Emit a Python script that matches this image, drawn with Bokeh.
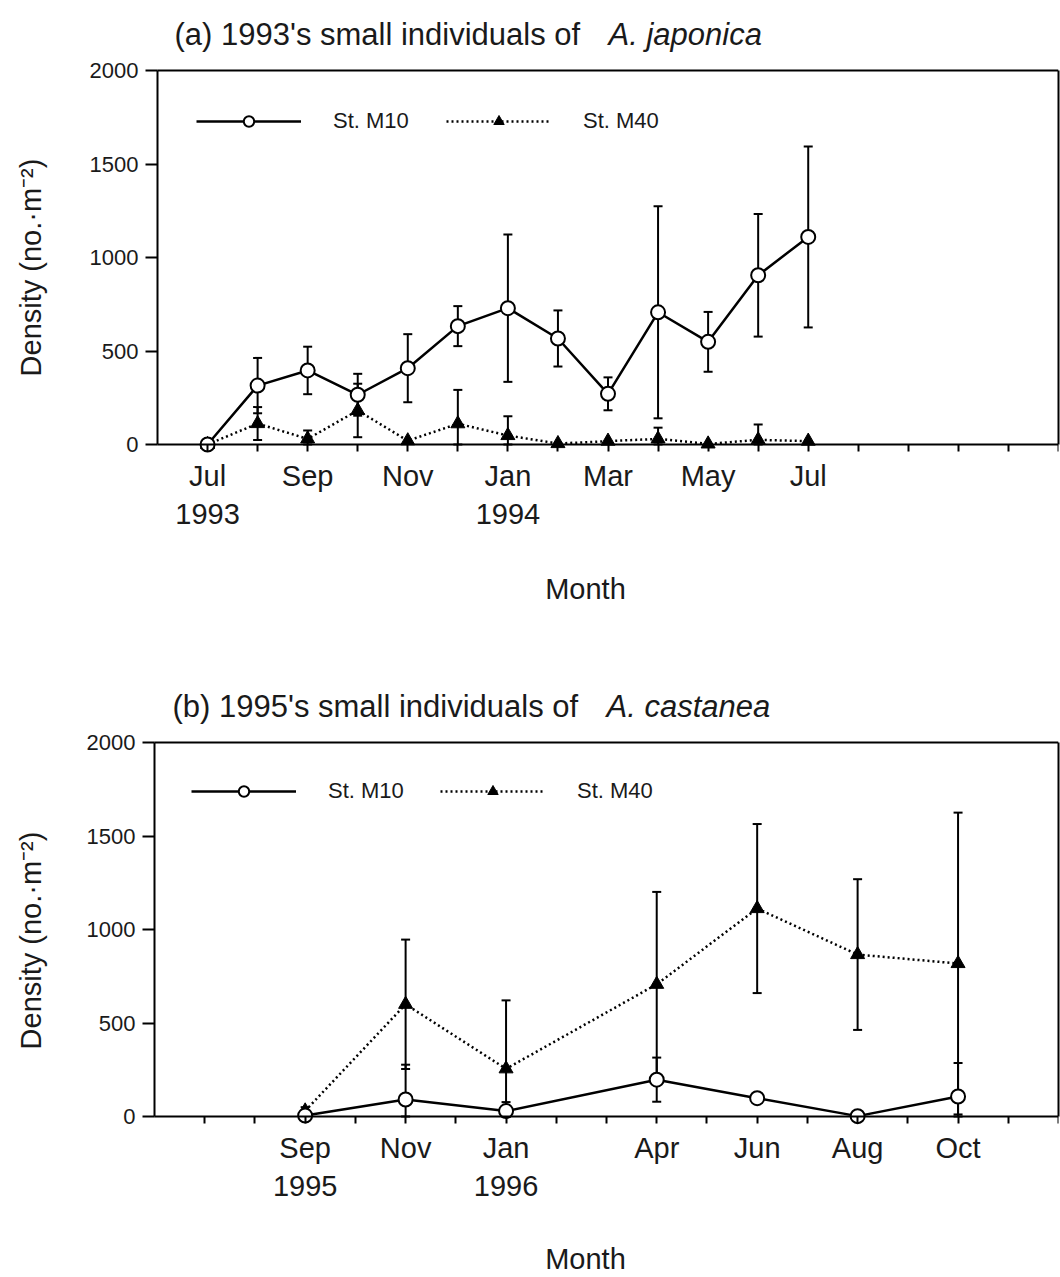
from bokeh.plotting import figure
from bokeh.layouts import column
from bokeh.models import (ColumnDataSource, Range1d, FixedTicker, Whisker, TeeHead,
                          Label, Legend, LegendItem, LinearAxis)
from bokeh.embed import file_html
from bokeh.resources import INLINE
import math

FONT = "Liberation Sans"
INK = "#1a1a1a"

# ---- (a) A. japonica, months counted from Jul 1993 ----
months_a = [0, 1, 2, 3, 4, 5, 6, 7, 8, 9, 10, 11, 12]
m10_a = [0, 315, 396, 266, 408, 633, 729, 567, 271, 707, 549, 905, 1110]
m10_a_err = [0, 148, 127, 112, 182, 107, 394, 150, 88, 567, 160, 328, 484]
m40_a = [0, 112, 30, 182, 20, 111, 48, 5, 18, 30, 3, 25, 18]
m40_a_err = [0, 88, 45, 143, 0, 181, 103, 0, 0, 60, 0, 82, 0]
ticks_a = list(range(0, 18))
tick_labels_a = {0: "Jul\n1993", 2: "Sep", 4: "Nov", 6: "Jan\n1994",
                 8: "Mar", 10: "May", 12: "Jul"}

# ---- (b) A. castanea, months counted from Sep 1995 ----
months_b = [0, 2, 4, 7, 9, 11, 13]
m10_b = [5, 91, 29, 197, 98, 2, 107]
m10_b_err = [0, 186, 48, 118, 0, 0, 179]
m40_b = [30, 600, 255, 707, 1112, 866, 818]
m40_b_err = [20, 346, 366, 494, 452, 403, 807]
ticks_b = list(range(-2, 16))
tick_labels_b = {0: "Sep\n1995", 2: "Nov", 4: "Jan\n1996", 7: "Apr",
                 9: "Jun", 11: "Aug", 13: "Oct"}

y_ticks = [0, 500, 1000, 1500, 2000]
Y_TOP = 2000
PX_PER_UNIT = 0.187   # vertical pixels per density unit
WIDTH = 1060
RIGHT_PAD = 2


def err_source(xs, ys, es):
    xs2, up, lo = [], [], []
    for x, y, e in zip(xs, ys, es):
        if e > 0:
            xs2.append(x)
            up.append(y + e)
            lo.append(max(0, y - e))
    return ColumnDataSource(dict(x=xs2, upper=up, lower=lo))


def add_whiskers(p, src):
    w = Whisker(source=src, base="x", upper="upper", lower="lower",
                dimension="height", line_width=2, line_color="black", level="underlay",
                upper_head=TeeHead(size=9, line_width=2, line_color="black"),
                lower_head=TeeHead(size=9, line_width=2, line_color="black"))
    p.add_layout(w)


def panel(height, box_left, zero_px, box_x, ticks, tick_labels, xs,
          m10, m10e, m40, m40e, title_main, title_ital, title_px, ital_px,
          legend_bottom_px, leg1_x, leg2_x, month_px, ylab_px):
    # The frame fills the whole panel; the boxed data area (box_x by 0..2000)
    # sits inside it so that nothing near the axes gets clipped.
    px_per_month = (WIDTH - RIGHT_PAD - box_left) / (box_x[1] - box_x[0])
    x_lo = box_x[0] - box_left / px_per_month
    y_lo = -(height - zero_px) / PX_PER_UNIT
    y_hi = zero_px / PX_PER_UNIT

    def mx(px):   # horizontal page position -> month value
        return x_lo + px / px_per_month

    def vy(px):   # vertical position inside the panel -> density value
        return (zero_px - px) / PX_PER_UNIT

    p = figure(width=WIDTH, height=height, output_backend="svg", toolbar_location=None,
               x_range=Range1d(x_lo, box_x[1]), y_range=Range1d(y_lo, y_hi),
               x_axis_location=None, y_axis_location=None,
               min_border_left=0, min_border_right=RIGHT_PAD, min_border_top=0,
               min_border_bottom=0, background_fill_color="white",
               border_fill_color="white")
    p.grid.visible = False
    p.outline_line_color = None

    xa = LinearAxis(fixed_location=0, bounds=box_x)
    xa.ticker = FixedTicker(ticks=ticks)
    xa.major_label_overrides = {t: tick_labels.get(t, "") for t in ticks}
    xa.axis_line_width = 2
    xa.major_tick_line_width = 2
    xa.major_tick_in = 0
    xa.major_tick_out = 7
    xa.minor_tick_line_color = None
    xa.major_label_text_font = FONT
    xa.major_label_text_font_size = "29px"
    xa.major_label_text_color = INK
    xa.major_label_standoff = 8
    p.add_layout(xa, "below")

    top = LinearAxis(fixed_location=Y_TOP, bounds=box_x, ticker=FixedTicker(ticks=[]),
                     axis_line_width=2, major_tick_out=0, major_tick_in=0,
                     minor_tick_line_color=None)
    p.add_layout(top, "above")

    ya = LinearAxis(fixed_location=box_x[0], bounds=(0, Y_TOP))
    ya.ticker = FixedTicker(ticks=y_ticks)
    ya.axis_line_width = 2
    ya.major_tick_line_width = 2
    ya.major_tick_in = 0
    ya.major_tick_out = 12
    ya.minor_tick_line_color = None
    ya.major_label_text_font = FONT
    ya.major_label_text_font_size = "22px"
    ya.major_label_text_color = INK
    ya.major_label_standoff = 7
    p.add_layout(ya, "left")

    ra = LinearAxis(bounds=(0, Y_TOP), ticker=FixedTicker(ticks=[]),
                    axis_line_width=2, major_tick_out=0, major_tick_in=0,
                    minor_tick_line_color=None)
    p.add_layout(ra, "right")

    add_whiskers(p, err_source(xs, m10, m10e))
    add_whiskers(p, err_source(xs, m40, m40e))

    l40 = p.line(xs, m40, line_color="black", line_width=2.5, line_dash="2 3")
    s40 = p.scatter(xs, m40, marker="triangle", size=14, fill_color="black",
                    line_color="black", line_width=1)
    l10 = p.line(xs, m10, line_color="black", line_width=2.5)
    s10 = p.scatter(xs, m10, marker="circle", size=14, fill_color="white",
                    line_color="black", line_width=2)

    for label, rends, x in (("St. M10", [l10, s10], leg1_x), ("St. M40", [l40, s40], leg2_x)):
        leg = Legend(items=[LegendItem(label=label, renderers=rends)],
                     location=(x, height - legend_bottom_px), orientation="horizontal",
                     glyph_width=105, glyph_height=26, label_standoff=32,
                     padding=0, margin=0, spacing=0,
                     border_line_alpha=0, background_fill_alpha=0,
                     label_text_font=FONT, label_text_font_size="22px",
                     label_text_color=INK)
        p.add_layout(leg)

    p.add_layout(Label(x=mx(title_px[0]), y=vy(title_px[1]), text=title_main,
                       text_font=FONT, text_font_size="31px", text_color=INK,
                       text_baseline="alphabetic"))
    p.add_layout(Label(x=mx(ital_px), y=vy(title_px[1]), text=title_ital,
                       text_font=FONT, text_font_size="31px", text_color=INK,
                       text_font_style="italic", text_baseline="alphabetic"))
    p.add_layout(Label(x=mx(month_px[0]), y=vy(month_px[1]), text="Month",
                       text_font=FONT, text_font_size="29px", text_color=INK,
                       text_align="center", text_baseline="middle"))
    p.add_layout(Label(x=mx(ylab_px[0]), y=vy(ylab_px[1]),
                       text="Density (no.\u00b7m\u207b\u00b2)", angle=math.pi / 2,
                       text_font=FONT, text_font_size="29px", text_color=INK,
                       text_align="center", text_baseline="middle"))
    return p


pa = panel(638, 157, 444, (-1, 17), ticks_a, tick_labels_a, months_a,
           m10_a, m10_a_err, m40_a, m40_a_err,
           "(a) 1993's small individuals of", "A. japonica", (174, 34), 608,
           134, 196, 446, (585, 588), (30, 267))
pb = panel(639, 154, 1116 - 638, (-3, 15), ticks_b, tick_labels_b, months_b,
           m10_b, m10_b_err, m40_b, m40_b_err,
           "(b) 1995's small individuals of", "A. castanea", (172, 706 - 638), 606,
           804 - 638, 191, 440, (585, 1258 - 638), (30, 940 - 638))

layout = column(pa, pb, spacing=0)
open("out.html", "w").write(file_html(layout, INLINE))
